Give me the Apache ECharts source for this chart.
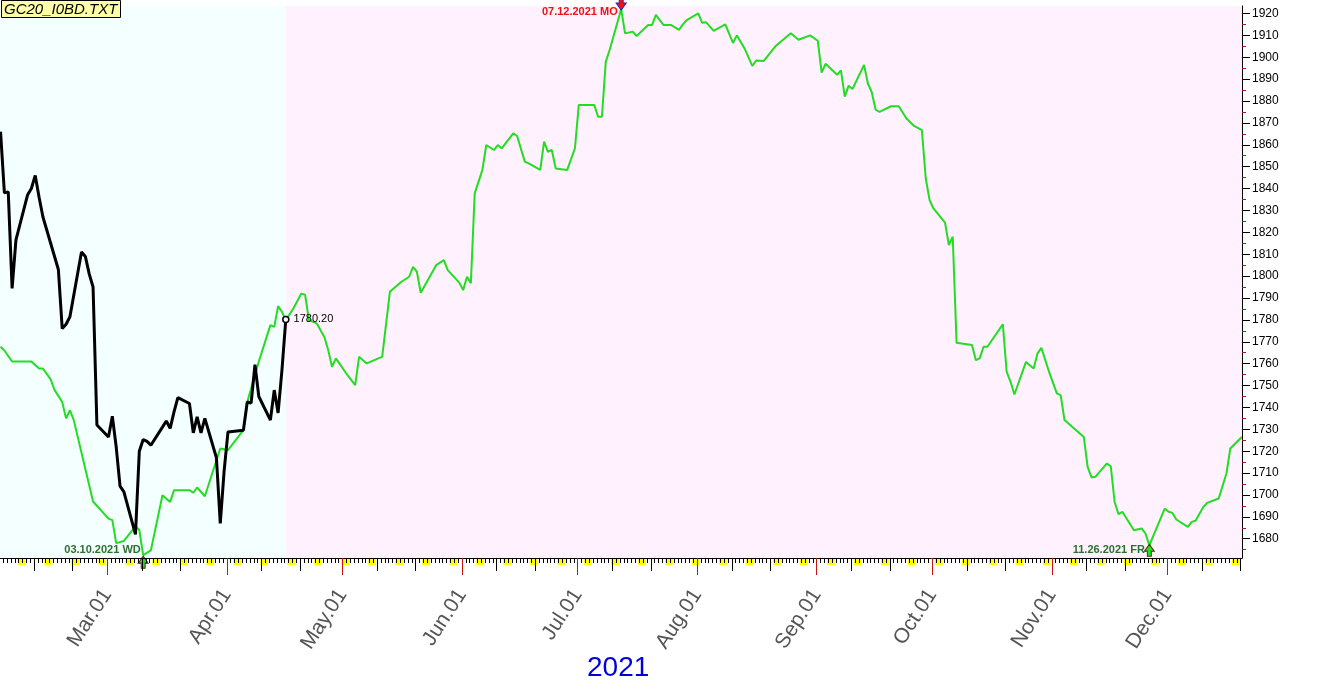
<!DOCTYPE html>
<html><head><meta charset="utf-8">
<script src="https://cdn.jsdelivr.net/npm/echarts@6/dist/echarts.min.js"></script>
<style>html,body{margin:0;padding:0;background:#fff}#c{width:1319px;height:689px}</style>
</head><body><div id="c"></div>
<script>
// ---------- data ----------
const greenDates = ['2021-02-01','2021-02-02','2021-02-04','2021-02-09','2021-02-11','2021-02-12','2021-02-14','2021-02-15','2021-02-17','2021-02-18','2021-02-19','2021-02-20','2021-02-25','2021-03-01','2021-03-02','2021-03-03','2021-03-05','2021-03-08','2021-03-09','2021-03-10','2021-03-12','2021-03-15','2021-03-17','2021-03-18','2021-03-22','2021-03-23','2021-03-24','2021-03-26','2021-03-30','2021-04-01','2021-04-05','2021-04-06','2021-04-09','2021-04-12','2021-04-13','2021-04-14','2021-04-15','2021-04-16','2021-04-18','2021-04-20','2021-04-21','2021-04-22','2021-04-24','2021-04-26','2021-04-27','2021-04-28','2021-04-29','2021-05-02','2021-05-04','2021-05-05','2021-05-07','2021-05-10','2021-05-11','2021-05-13','2021-05-16','2021-05-18','2021-05-19','2021-05-20','2021-05-21','2021-05-25','2021-05-27','2021-05-28','2021-05-31','2021-06-01','2021-06-02','2021-06-03','2021-06-04','2021-06-06','2021-06-07','2021-06-09','2021-06-10','2021-06-11','2021-06-14','2021-06-15','2021-06-17','2021-06-18','2021-06-21','2021-06-22','2021-06-23','2021-06-24','2021-06-25','2021-06-28','2021-06-30','2021-07-01','2021-07-05','2021-07-06','2021-07-07','2021-07-08','2021-07-09','2021-07-12','2021-07-13','2021-07-15','2021-07-16','2021-07-19','2021-07-20','2021-07-21','2021-07-23','2021-07-25','2021-07-27','2021-07-28','2021-07-29','2021-08-01','2021-08-02','2021-08-03','2021-08-05','2021-08-08','2021-08-10','2021-08-11','2021-08-13','2021-08-15','2021-08-16','2021-08-18','2021-08-21','2021-08-25','2021-08-27','2021-08-30','2021-09-01','2021-09-02','2021-09-03','2021-09-06','2021-09-07','2021-09-08','2021-09-09','2021-09-10','2021-09-13','2021-09-14','2021-09-15','2021-09-16','2021-09-17','2021-09-20','2021-09-22','2021-09-24','2021-09-26','2021-09-28','2021-09-29','2021-09-30','2021-10-01','2021-10-04','2021-10-05','2021-10-06','2021-10-07','2021-10-11','2021-10-12','2021-10-13','2021-10-14','2021-10-15','2021-10-19','2021-10-20','2021-10-21','2021-10-22','2021-10-25','2021-10-27','2021-10-28','2021-10-29','2021-10-31','2021-11-02','2021-11-03','2021-11-04','2021-11-09','2021-11-10','2021-11-11','2021-11-12','2021-11-15','2021-11-16','2021-11-17','2021-11-18','2021-11-19','2021-11-22','2021-11-24','2021-11-25','2021-11-26','2021-11-30','2021-12-01','2021-12-02','2021-12-03','2021-12-06','2021-12-07','2021-12-08','2021-12-10','2021-12-11','2021-12-14','2021-12-16','2021-12-17','2021-12-20'];
const greenValues = [1767.7,1766,1761,1761,1757.8,1757.8,1752.8,1748,1742.5,1735,1738.7,1734.2,1697,1689.2,1688.5,1678,1679,1685.7,1684,1672.5,1674.7,1699.9,1696.8,1702.2,1702.2,1701,1703.4,1699.4,1721.2,1720.5,1729.6,1742.5,1761,1777.6,1776.8,1786.3,1783.7,1779.9,1785.3,1792,1791.5,1779.9,1778.4,1772.2,1766.2,1758.5,1762.4,1754.7,1750.2,1763.1,1760.1,1762.4,1763.1,1792.8,1797.4,1799.7,1804.2,1802,1792.4,1805,1807.3,1802.7,1797,1793.6,1799.7,1796.7,1837.8,1848.5,1859.9,1857.6,1859.9,1858.4,1865.2,1864,1852.3,1851.5,1848.5,1861.4,1856.8,1857.6,1849.2,1848.5,1858.4,1878.2,1878.2,1872.8,1872.8,1898,1903.3,1922,1910.9,1911.7,1909.7,1914.7,1914.7,1919.3,1914.7,1914.7,1912.5,1915,1917,1920,1915.7,1916,1912,1915,1906.5,1910,1904,1896,1898.5,1898.3,1905,1911,1908,1910,1907.5,1893,1897,1892,1894,1882,1887,1885.5,1896.5,1888,1884,1876,1875,1877.6,1877.6,1872,1868.6,1866.7,1844.7,1834.7,1830.9,1824.4,1814.2,1818,1769.5,1768.5,1761.6,1762.4,1767.7,1767.7,1778,1756.2,1751.7,1745.9,1760.8,1757.8,1764.7,1767.2,1756.2,1746.4,1745.6,1734.2,1726.5,1712.8,1708,1708.3,1714.4,1713.1,1696.8,1691.2,1692.3,1683.9,1684.7,1682.4,1677,1693.8,1692.3,1691.8,1688.8,1685.4,1687.7,1688.2,1694.5,1696.4,1698.4,1709.8,1721.2,1726.5];

const blackDates = ['2021-02-01','2021-02-02','2021-02-03','2021-02-04','2021-02-05','2021-02-08','2021-02-09','2021-02-10','2021-02-11','2021-02-12','2021-02-16','2021-02-17','2021-02-18','2021-02-19','2021-02-22','2021-02-23','2021-02-24','2021-02-25','2021-02-26','2021-03-01','2021-03-02','2021-03-03','2021-03-04','2021-03-05','2021-03-08','2021-03-09','2021-03-10','2021-03-11','2021-03-12','2021-03-15','2021-03-16','2021-03-17','2021-03-18','2021-03-19','2021-03-22','2021-03-23','2021-03-24','2021-03-25','2021-03-26','2021-03-29','2021-03-30','2021-03-31','2021-04-01','2021-04-05','2021-04-06','2021-04-07','2021-04-08','2021-04-09','2021-04-12','2021-04-13','2021-04-14','2021-04-15','2021-04-16'];
const blackValues = [1866,1838,1838.5,1794.4,1816.5,1837,1840,1846,1836,1827,1803,1776,1778,1781.4,1811,1809,1801,1795,1732,1726.5,1736,1722,1704,1701.4,1682,1720,1725.3,1724.5,1722.7,1731,1733.8,1730.4,1738,1744.5,1741.8,1728.4,1735.7,1728.4,1735,1717,1687,1711,1728.8,1729.6,1742.5,1742,1759.5,1745,1734.2,1747.9,1737.5,1757,1780.2];

const monthTickDates = ['2021-03-01','2021-04-01','2021-05-01','2021-06-01','2021-07-01','2021-08-01','2021-09-01','2021-10-01','2021-11-01','2021-12-01'];
const monthLabels = ['Mar.01','Apr.01','May.01','Jun.01','Jul.01','Aug.01','Sep.01','Oct.01','Nov.01','Dec.01'];
const yTickLabels = [1680,1690,1700,1710,1720,1730,1740,1750,1760,1770,1780,1790,1800,1810,1820,1830,1840,1850,1860,1870,1880,1890,1900,1910,1920];
const highPoint = {date:'2021-07-12', value:1922, text:'07.12.2021 MO'};
const lowPoints = [{date:'2021-03-10', value:1672.5, text:'03.10.2021 WD'},{date:'2021-11-26', value:1677, text:'11.26.2021 FR'}];
const lastClose = {date:'2021-04-16', value:1780.2, text:'1780.20'};
const fileName = 'GC20_I0BD.TXT';
const yearLabel = '2021';

// ---------- helpers ----------
function doy(s){ const d = new Date(s+'T00:00:00Z'); return (d - Date.UTC(2021,0,1))/86400000 + 1; }
const SHIFT = 0.3;
const X_MIN = doy('2021-02-01') + 0.16;
const X_MAX = doy('2021-12-20') + 0.34;
const Y_MIN = 1671.2, Y_MAX = 1923.4;

const dayTicks = [], tenTicks = [], weekendAreas = [];
for (let d = Math.ceil(X_MIN); d <= Math.floor(X_MAX); d++) {
  dayTicks.push(d);
  const dt = new Date(Date.UTC(2021,0,d));
  const dom = dt.getUTCDate();
  if (dom === 10 || dom === 20) tenTicks.push(d);
  if (dt.getUTCDay() === 6) weekendAreas.push([{xAxis: d - 0.3}, {xAxis: Math.min(d + 1.7, X_MAX)}]);
}
const monthTicks = monthTickDates.map(doy);
const minorY = yTickLabels.map(v => v - 5);

const green = greenDates.map((d,i)=>[doy(d)+SHIFT, greenValues[i]]);
const black = blackDates.map((d,i)=>[doy(d)+SHIFT, blackValues[i]]);

const upArrow = 'path://M5,0 L10,7 L7,7 L7,12 L3,12 L3,7 L0,7 Z';
const downArrow = 'path://M3,0 L7,0 L7,5 L10,5 L5,12 L0,5 L3,5 Z';
const FONT = 'Liberation Sans, Arial, sans-serif';

const chart = echarts.init(document.getElementById('c'), null, {renderer:'canvas'});
chart.setOption({
  animation: false,
  backgroundColor: '#ffffff',
  title: [
    {text: fileName, left: 1, top: 0, padding: [1,3,0,3], backgroundColor: '#FFFFA8', borderColor: '#000', borderWidth: 1,
     textStyle: {fontStyle: 'italic', fontWeight: 'normal', fontSize: 15, fontFamily: FONT, color: '#000', lineHeight: 17}},
    {text: yearLabel, left: 587, top: 654, padding: 0,
     textStyle: {fontWeight: 'normal', fontSize: 28, fontFamily: FONT, color: '#0000DD'}}
  ],
  grid: [
    {left: 0, right: 77, top: 6, bottom: 131},
    {left: 0, right: 77, top: 559, height: 6}
  ],
  xAxis: [
    {gridIndex: 0, type: 'value', min: X_MIN, max: X_MAX, position: 'bottom', z: 10,
     axisLine: {show: true, onZero: false, lineStyle: {color: '#000', width: 1}},
     axisTick: {show: true, customValues: dayTicks, length: 5, lineStyle: {color: '#000', width: 1}},
     axisLabel: {show: true, customValues: monthTicks, rotate: 57, margin: 33, fontSize: 21, fontFamily: FONT, color: '#555',
       formatter: v => { const i = monthTicks.indexOf(Math.round(v)); return i >= 0 ? monthLabels[i] : ''; }},
     splitLine: {show: false}},
    {gridIndex: 0, type: 'value', min: X_MIN, max: X_MAX, position: 'bottom', z: 11,
     axisLine: {show: false, onZero: false},
     axisTick: {show: true, customValues: tenTicks, length: 13, lineStyle: {color: '#000', width: 1}},
     axisLabel: {show: false}, splitLine: {show: false}},
    {gridIndex: 0, type: 'value', min: X_MIN, max: X_MAX, position: 'bottom', z: 12,
     axisLine: {show: false, onZero: false},
     axisTick: {show: true, customValues: monthTicks, length: 17, lineStyle: {color: '#CC1111', width: 1}},
     axisLabel: {show: false}, splitLine: {show: false}},
    {gridIndex: 1, type: 'value', min: X_MIN, max: X_MAX, show: false}
  ],
  yAxis: [
    {gridIndex: 0, type: 'value', min: Y_MIN, max: Y_MAX, position: 'right', z: 10,
     axisLine: {show: true, onZero: false, lineStyle: {color: '#000', width: 1}},
     axisTick: {show: true, customValues: yTickLabels, length: 8, lineStyle: {color: '#000'}},
     axisLabel: {show: true, customValues: yTickLabels, margin: 10, fontSize: 12, fontFamily: FONT, color: '#000',
       formatter: v => String(Math.round(v))},
     splitLine: {show: false}},
    {gridIndex: 0, type: 'value', min: Y_MIN, max: Y_MAX, position: 'right', z: 11,
     axisLine: {show: false, onZero: false},
     axisTick: {show: true, customValues: minorY, length: 4, lineStyle: {color: '#A02020'}},
     axisLabel: {show: false}, splitLine: {show: false}},
    {gridIndex: 1, type: 'value', min: 0, max: 1, show: false}
  ],
  series: [
    {type: 'line', xAxisIndex: 0, yAxisIndex: 0, data: [[X_MIN, Y_MIN],[X_MAX, Y_MIN]], symbol: 'none', silent: true, z: 1,
     lineStyle: {opacity: 0},
     markArea: {silent: true, data: [
       [{xAxis: X_MIN, itemStyle: {color: '#F4FFFF'}}, {xAxis: doy(lastClose.date) + SHIFT}],
       [{xAxis: doy(lastClose.date) + SHIFT, itemStyle: {color: '#FFF1FD'}}, {xAxis: X_MAX}]
     ]}},
    {type: 'line', xAxisIndex: 3, yAxisIndex: 2, data: [[X_MIN, 0],[X_MAX, 0]], symbol: 'none', silent: true, z: 1,
     lineStyle: {opacity: 0},
     markArea: {silent: true, itemStyle: {color: '#FFFF00'}, data: weekendAreas}},
    {type: 'line', name: 'seasonal', xAxisIndex: 0, yAxisIndex: 0, data: green, symbol: 'none', z: 3,
     lineStyle: {color: '#22DD22', width: 2},
     markPoint: {silent: true, data: [
       {coord: [doy(highPoint.date)+SHIFT, highPoint.value], symbol: downArrow, symbolSize: [10,12], symbolOffset: [0,-5],
        itemStyle: {color: '#EE1111', borderColor: '#2222BB', borderWidth: 1},
        label: {show: true, formatter: highPoint.text, position: 'left', distance: 2, offset: [4,8], color: '#EE1111', fontWeight: 'bold', fontSize: 11, fontFamily: FONT}},
       {coord: [doy(lowPoints[0].date)+SHIFT, lowPoints[0].value], symbol: upArrow, symbolSize: [10,12], symbolOffset: [0,7],
        itemStyle: {color: '#22DD22', borderColor: '#5A2A00', borderWidth: 1},
        label: {show: true, formatter: lowPoints[0].text, position: 'left', distance: 0, offset: [3,-12], color: '#2E7030', fontWeight: 'bold', fontSize: 11, fontFamily: FONT}},
       {coord: [doy(lowPoints[1].date)+SHIFT, lowPoints[1].value], symbol: upArrow, symbolSize: [10,12], symbolOffset: [0,5],
        itemStyle: {color: '#22DD22', borderColor: '#5A2A00', borderWidth: 1},
        label: {show: true, formatter: lowPoints[1].text, position: 'left', distance: 0, offset: [1,0], color: '#2E7030', fontWeight: 'bold', fontSize: 11, fontFamily: FONT}}
     ]}},
    {type: 'line', name: 'price', xAxisIndex: 0, yAxisIndex: 0, data: black, symbol: 'none', z: 4,
     lineStyle: {color: '#000', width: 3},
     markPoint: {silent: true, data: [
       {coord: [doy(lastClose.date)+SHIFT, lastClose.value], symbol: 'circle', symbolSize: 6,
        itemStyle: {color: '#fff', borderColor: '#000', borderWidth: 1.5},
        label: {show: true, formatter: lastClose.text, position: 'right', distance: 4, color: '#000', fontSize: 11, fontFamily: FONT}}
     ]}}
  ]
});
</script></body></html>
